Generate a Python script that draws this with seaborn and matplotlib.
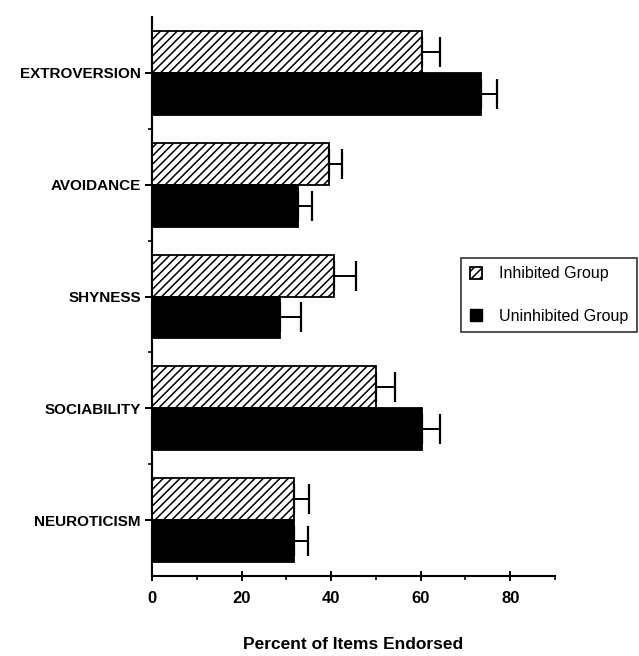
import seaborn as sns
import pandas as pd
import matplotlib.pyplot as plt
from matplotlib.patches import Patch
from matplotlib.ticker import MultipleLocator, FixedLocator

# data
scales = ['EXTROVERSION', 'AVOIDANCE', 'SHYNESS', 'SOCIABILITY', 'NEUROTICISM']
groups = ['Inhibited Group', 'Uninhibited Group']
inhibited = [60.4, 39.6, 40.7, 50.1, 31.8]
uninhibited = [73.4, 32.7, 28.6, 60.2, 31.8]
inhibited_se = [4.0, 2.9, 4.9, 4.1, 3.2]
uninhibited_se = [3.6, 3.1, 4.7, 4.2, 3.0]

df = pd.DataFrame({
    'scale': scales * 2,
    'group': [groups[0]] * 5 + [groups[1]] * 5,
    'pct': inhibited + uninhibited,
})
errs = {groups[0]: inhibited_se, groups[1]: uninhibited_se}

sns.set_style('ticks')
plt.rcParams['font.family'] = ['Liberation Sans', 'DejaVu Sans']
plt.rcParams['hatch.linewidth'] = 1.1
plt.rcParams['text.color'] = 'black'
plt.rcParams['axes.labelcolor'] = 'black'
plt.rcParams['xtick.color'] = 'black'
plt.rcParams['ytick.color'] = 'black'

fig = plt.figure(figsize=(6.39, 6.56), dpi=100)
ax = fig.add_axes([0.238, 0.1220, 0.6305, 0.8520])

pal = {groups[0]: 'white', groups[1]: 'black'}
sns.barplot(data=df, x='pct', y='scale', hue='group', hue_order=groups,
            order=scales, palette=pal, orient='h', width=0.75,
            edgecolor='black', linewidth=1.3, errorbar=None, legend=False,
            saturation=1, ax=ax)

for cont, g in zip(ax.containers, groups):
    for bar, e in zip(cont, errs[g]):
        if g == groups[0]:
            bar.set_hatch('////')
        yc = bar.get_y() + bar.get_height() / 2
        w = bar.get_width()
        ax.errorbar(w, yc, xerr=[[0], [e]], fmt='none', ecolor='black',
                    elinewidth=1.4, capsize=11, capthick=1.6, zorder=5)

ax.set_xlim(0, 90)
ax.set_ylim(4.5, -0.5)
ax.xaxis.set_major_locator(MultipleLocator(20))
ax.xaxis.set_minor_locator(FixedLocator([10, 30, 50, 70, 90]))
ax.yaxis.set_minor_locator(FixedLocator([0.5, 1.5, 2.5, 3.5]))
ax.tick_params(axis='x', which='major', direction='inout', length=7, width=1.4,
               labelsize=12, pad=7)
ax.tick_params(axis='x', which='minor', direction='out', length=3, width=1.2)
ax.tick_params(axis='y', which='major', direction='out', length=5, width=1.4,
               labelsize=11, pad=3)
ax.tick_params(axis='y', which='minor', direction='out', length=3, width=1.2)
for lab in ax.get_xticklabels() + ax.get_yticklabels():
    lab.set_fontweight('bold')

ax.set_ylabel('')
ax.set_xlabel('Percent of Items Endorsed', fontsize=12.5, fontweight='bold',
              labelpad=23)
sns.despine(ax=ax)
for s in ['left', 'bottom']:
    ax.spines[s].set_linewidth(1.5)
    ax.spines[s].set_color('black')

handles = [Patch(facecolor='white', edgecolor='black', hatch='////', linewidth=1.3),
           Patch(facecolor='black', edgecolor='black')]
leg = fig.legend(handles, groups, loc='center left',
                 bbox_to_anchor=(461 / 639, 1 - 295 / 656),
                 frameon=True, fancybox=False, edgecolor='black',
                 fontsize=11.5, handlelength=0.75, handleheight=0.75,
                 labelspacing=1.7, handletextpad=1.1, borderpad=0.55,
                 borderaxespad=0)
leg.get_frame().set_linewidth(1.2)

fig.savefig('out.png', dpi=100)
